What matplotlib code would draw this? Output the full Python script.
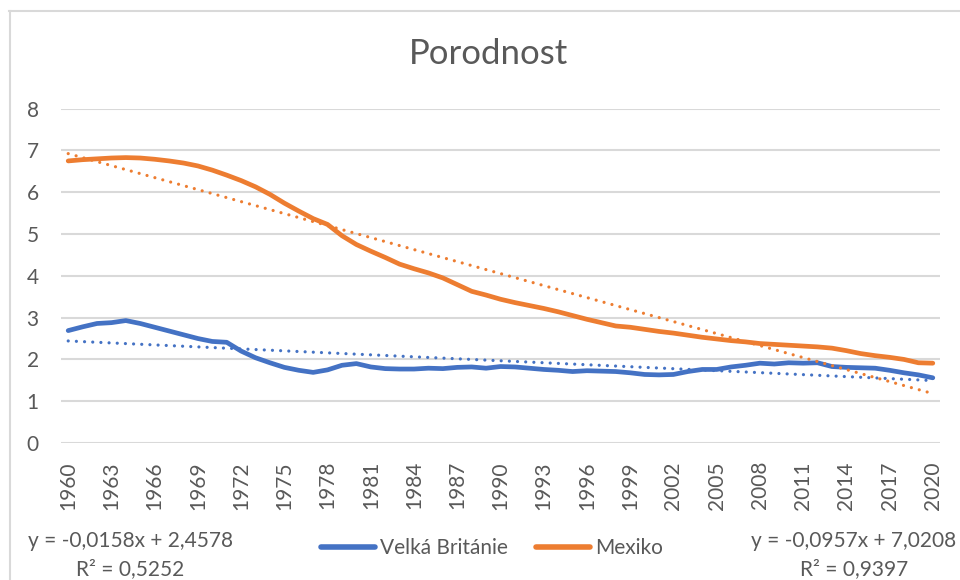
import matplotlib.pyplot as plt
from matplotlib.lines import Line2D
import numpy as np

years = list(range(1960, 2021))

velka_britanie = [
    2.69, 2.78, 2.86, 2.88, 2.93, 2.86, 2.77, 2.68, 2.59, 2.50,
    2.43, 2.41, 2.20, 2.04, 1.92, 1.81, 1.74, 1.69, 1.75, 1.86,
    1.90, 1.82, 1.78, 1.77, 1.77, 1.79, 1.78, 1.81, 1.82, 1.79,
    1.83, 1.82, 1.79, 1.76, 1.74, 1.71, 1.73, 1.72, 1.71, 1.68,
    1.64, 1.63, 1.64, 1.71, 1.76, 1.76, 1.82, 1.86, 1.91, 1.89,
    1.92, 1.91, 1.92, 1.83, 1.81, 1.80, 1.79, 1.74, 1.68, 1.63,
    1.56,
]

mexiko = [
    6.75, 6.78, 6.80, 6.82, 6.83, 6.82, 6.79, 6.75, 6.70, 6.63,
    6.53, 6.41, 6.28, 6.13, 5.95, 5.74, 5.55, 5.37, 5.23, 4.96,
    4.75, 4.59, 4.44, 4.28, 4.17, 4.07, 3.95, 3.79, 3.63, 3.54,
    3.44, 3.36, 3.29, 3.22, 3.14, 3.05, 2.96, 2.88, 2.80, 2.77,
    2.72, 2.67, 2.63, 2.58, 2.53, 2.49, 2.45, 2.42, 2.38, 2.36,
    2.34, 2.32, 2.30, 2.27, 2.21, 2.14, 2.09, 2.05, 2.00, 1.92,
    1.91,
]

# trendline coefficients as shown in the chart (x = 1..61)
trend_vb = (-0.0158, 2.4578, 0.5252)
trend_mx = (-0.0957, 7.0208, 0.9397)

BLUE = '#4472C4'
ORANGE = '#ED7D31'
GREY_TEXT = '#595959'
GRID = '#D9D9D9'

plt.rcParams['font.family'] = ['Lato', 'DejaVu Sans']

W, H = 960, 580
fig = plt.figure(figsize=(W / 100, H / 100), dpi=100)

ax = fig.add_axes([61 / W, 1 - 443 / H, 879 / W, (443 - 108.7) / H])

idx = np.arange(len(years))
ax.plot(idx, velka_britanie, color=BLUE, lw=3.4, solid_capstyle='round',
        solid_joinstyle='round', label='Velká Británie', zorder=3)
ax.plot(idx, mexiko, color=ORANGE, lw=3.4, solid_capstyle='round',
        solid_joinstyle='round', label='Mexiko', zorder=3)

xn = idx + 1
for (k, q, _), col in ((trend_vb, BLUE), (trend_mx, ORANGE)):
    ax.plot(idx, k * xn + q, color=col, lw=2.3, linestyle=(0, (0.01, 2.55)),
            dash_capstyle='round', zorder=4)

ax.set_xlim(-0.5, len(years) - 0.5)
ax.set_ylim(0, 8)
ax.set_yticks(range(0, 9))
ax.set_xticks(idx[::3])
ax.set_xticklabels([str(y) for y in years[::3]], rotation=90)
ax.grid(axis='y', color=GRID, lw=1.5)
ax.set_axisbelow(True)
for s in ax.spines.values():
    s.set_visible(False)
ax.tick_params(axis='x', length=0, pad=13, labelsize=15, labelcolor=GREY_TEXT)
ax.tick_params(axis='y', length=0, pad=16, labelsize=15, labelcolor=GREY_TEXT)

fig.text(489 / W, 1 - 54 / H, 'Porodnost', ha='center', va='center',
         fontsize=25, color=GREY_TEXT)

leg = fig.legend(loc='center', bbox_to_anchor=(492 / W, 1 - 548 / H), ncol=2,
                 frameon=False, fontsize=15, handlelength=2.6,
                 handletextpad=0.25, columnspacing=1.35, labelcolor=GREY_TEXT)
for h in leg.get_lines():
    h.set_linewidth(4)

def eq_text(k, q, r2):
    s = f'y = {k:.4f}x + {q:.4f}'.replace('.', ',')
    return s, f'R² = {r2:.4f}'.replace('.', ',')

for (k, q, r2), cx in ((trend_vb, 130), (trend_mx, 854)):
    l1, l2 = eq_text(k, q, r2)
    fig.text(cx / W, 1 - 541 / H, l1, ha='center', va='center',
             fontsize=15, color=GREY_TEXT)
    fig.text(cx / W, 1 - 569 / H, l2, ha='center', va='center',
             fontsize=15, color=GREY_TEXT)

# chart area border (cut off at right and bottom)
fig.add_artist(Line2D([9.5 / W, 9.5 / W], [0, 1 - 11 / H], color=GRID, lw=1.5))
fig.add_artist(Line2D([9 / W, 1], [1 - 11 / H, 1 - 11 / H], color=GRID, lw=1.5))

fig.savefig('out.png', dpi=100, facecolor='white')
plt.close(fig)
